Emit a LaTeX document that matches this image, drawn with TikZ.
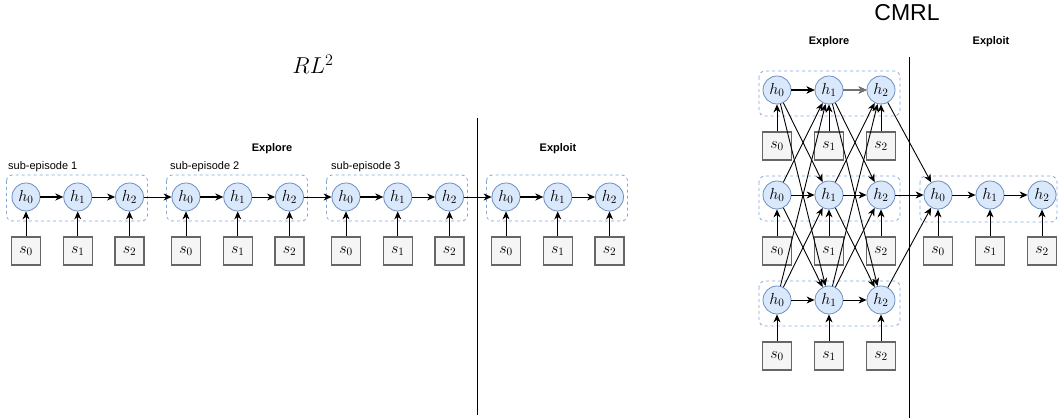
\RequirePackage{fix-cm}
\documentclass[tikz,border=0pt]{standalone}
\usepackage{fontspec}
\setsansfont{Liberation Sans}
\usetikzlibrary{arrows.meta}
\definecolor{hfill}{HTML}{DAE8FC}
\definecolor{hdraw}{HTML}{6C8EBF}
\definecolor{sfill}{HTML}{F5F5F5}
\definecolor{sdraw}{HTML}{666666}
\definecolor{grp}{HTML}{7EA6E0}
\tikzset{
  hnode/.style={circle, minimum size=28pt, inner sep=0pt, fill=hfill, draw=hdraw, line width=0.8pt, font=\fontsize{16}{18}\selectfont},
  snode/.style={rectangle, minimum width=29pt, minimum height=28pt, inner sep=0pt, fill=sfill, draw=sdraw, line width=1.1pt, font=\fontsize{16}{18}\selectfont},
  grpbox/.style={draw=grp, dash pattern=on 3pt off 3pt, rounded corners=6pt, line width=0.8pt},
  conn/.style={-{Stealth[length=8pt,width=7pt,inset=2.5pt]}, line width=0.9pt, draw=black},
  bconn/.style={conn, line width=1.5pt},
  gconn/.style={conn, line width=1.3pt, draw=black!55},
  divider/.style={line width=0.9pt, draw=black},
  lbl/.style={font=\sffamily\fontsize{11}{13}\selectfont, anchor=west, inner sep=0pt},
  hdr/.style={font=\sffamily\bfseries\fontsize{11}{13}\selectfont, inner sep=0pt},
  ttl/.style={font=\sffamily\fontsize{23}{27}\selectfont, inner sep=0pt},
}
\begin{document}
\begin{tikzpicture}[x=1pt,y=-1pt]
\useasboundingbox (0,0) rectangle (1058,419);

% ---------------- RL^2 ----------------
\node[inner sep=0pt] (rltitle) at (313,64) {\fontsize{23}{27}\selectfont $RL^2$};
\node[hdr] (lexplore) at (272,149) {Explore};
\node[hdr] (lexploit) at (558,149) {Exploit};
\node[lbl] (sub1) at (8,167) {sub-episode 1};
\node[lbl] (sub2) at (170,167) {sub-episode 2};
\node[lbl] (sub3) at (331,167) {sub-episode 3};

\foreach \k in {1,...,4}{
  \pgfmathsetmacro\bl{26+160*(\k-1)-19.5}
  \pgfmathsetmacro\br{26+160*(\k-1)+103.5+18}
  \draw[grpbox] (\bl,175) rectangle (\br,221);
  \foreach \j in {0,1,2}{
    \pgfmathsetmacro\xx{26+160*(\k-1)+51.75*\j}
    \node[hnode] (L\k h\j) at (\xx,197) {$h_{\j}$};
    \node[snode] (L\k s\j) at (\xx,251) {$s_{\j}$};
    \draw[conn] (L\k s\j) -- (L\k h\j);
  }
  \draw[bconn] (L\k h0) -- (L\k h1);
  \draw[conn] (L\k h1) -- (L\k h2);
}
\draw[conn] (L1h2) -- (L2h0);
\draw[conn] (L2h2) -- (L3h0);
\draw[conn] (L3h2) -- (L4h0);
\coordinate (ldivtop) at (477.5,118);
\coordinate (ldivbot) at (477.5,415);
\draw[divider] (ldivtop) -- (ldivbot);

% ---------------- CMRL ----------------
\node[ttl] (cmrltitle) at (907,13) {CMRL};
\node[hdr] (rexplore) at (829,42) {Explore};
\node[hdr] (rexploit) at (991,42) {Exploit};

\foreach \r/\yy in {1/90,2/195,3/300}{
  \pgfmathsetmacro\sy{\yy+56}
  \pgfmathsetmacro\bt{\yy-19}
  \pgfmathsetmacro\bb{\yy+26}
  \draw[grpbox] (759,\bt) rectangle (900,\bb);
  \foreach \j/\xx in {0/777,1/829,2/881}{
    \node[hnode] (C\r h\j) at (\xx,\yy) {$h_{\j}$};
    \node[snode] (C\r s\j) at (\xx,\sy) {$s_{\j}$};
    \draw[conn] (C\r s\j) -- (C\r h\j);
  }
}
\draw[grpbox] (920,176) rectangle (1057,222);
\foreach \j/\xx in {0/938,1/990,2/1042}{
  \node[hnode] (E h\j) at (\xx,195) {$h_{\j}$};
  \node[snode] (E s\j) at (\xx,251) {$s_{\j}$};
  \draw[conn] (E s\j) -- (E h\j);
}
\draw[conn] (E h0) -- (E h1);
\draw[conn] (E h1) -- (E h2);

\foreach \j/\n in {0/1,1/2}{
  \foreach \r in {1,2,3}{
    \foreach \q in {1,2,3}{
      \draw[conn] (C\r h\j) -- (C\q h\n);
    }
  }
}
\draw[bconn] (C1h0) -- (C1h1);
\draw[gconn] (C1h1) -- (C1h2);
\foreach \r in {1,2,3}{
  \draw[conn] (C\r h2) -- (E h0);
}
\coordinate (rdivtop) at (909.5,57);
\coordinate (rdivbot) at (909.5,418);
\draw[divider] (rdivtop) -- (rdivbot);
\end{tikzpicture}
\end{document}
